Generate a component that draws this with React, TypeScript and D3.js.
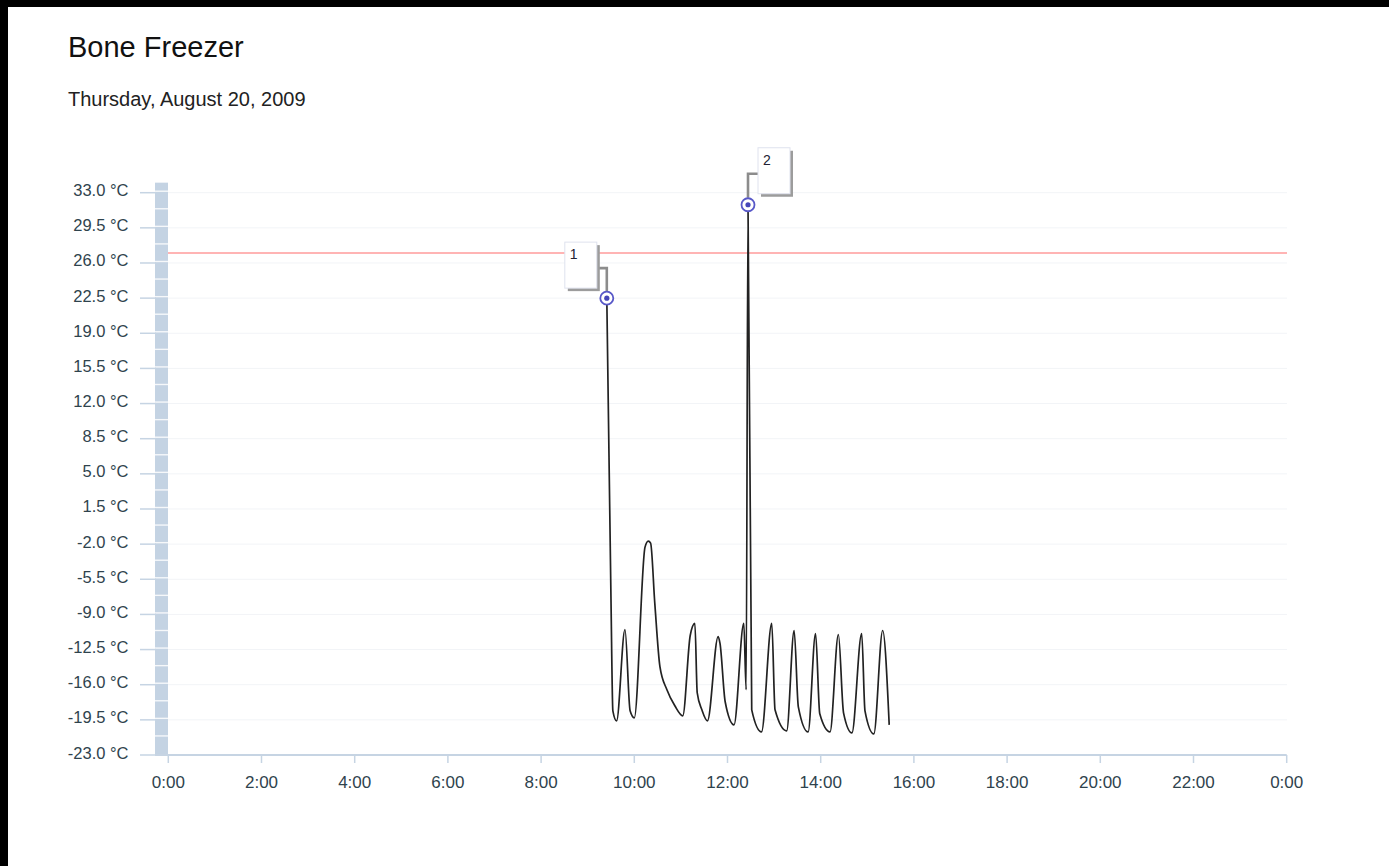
import React from 'react';
import * as d3 from 'd3';

const TITLE = 'Bone Freezer';
const SUBTITLE = 'Thursday, August 20, 2009';

// readings: hour of day and temperature (°C)
const hours = [9.41, 9.5, 9.54, 9.62, 9.8, 9.91, 10.0, 10.23, 10.3, 10.35, 10.44, 10.55, 10.7, 10.87, 11.04, 11.2, 11.3, 11.35, 11.45, 11.57, 11.8, 11.84, 11.95, 12.14, 12.35, 12.4, 12.44, 12.52, 12.73, 12.95, 13.02, 13.27, 13.43, 13.52, 13.73, 13.89, 13.98, 14.2, 14.38, 14.49, 14.67, 14.88, 14.95, 15.14, 15.33, 15.47];
const temps = [22.5, -7.6, -18.6, -19.6, -10.5, -18.6, -19.3, -2.3, -1.7, -1.9, -7.9, -14.2, -16.5, -18.1, -19.1, -11.1, -9.9, -16.8, -18.5, -19.6, -11.2, -11.9, -17.7, -20.0, -9.9, -16.5, 31.8, -18.5, -20.7, -9.9, -18.5, -20.6, -10.6, -18.2, -20.7, -10.9, -18.9, -20.7, -11.0, -18.8, -20.8, -10.9, -18.6, -20.9, -10.6, -20.0];

const yTicks = [33.0, 29.5, 26.0, 22.5, 19.0, 15.5, 12.0, 8.5, 5.0, 1.5, -2.0, -5.5, -9.0, -12.5, -16.0, -19.5, -23.0];
const xTicks = [0, 2, 4, 6, 8, 10, 12, 14, 16, 18, 20, 22, 24];
const THRESHOLD = 27.0;

const flagLabels = ['1', '2'];
const flagIndex = [0, 26];
const flagSide = ['left', 'right'];

const W = 1389;
const H = 866;

export default function App() {
  const x = d3.scaleLinear().domain([0, 24]).range([168.3, 1286.7]);
  const y = d3.scaleLinear().domain([-23, 33]).range([755, 192.7]);

  const pts = hours.map((h, i) => ({ h, t: temps[i] }));
  const line = d3.line<{ h: number; t: number }>()
    .x(d => x(d.h))
    .y(d => y(d.t))
    .curve(d3.curveMonotoneX);

  const bandTop = y(34);
  const bandBottom = y(-23);
  const gaps = d3.range(0, 32).map(k => 33 - k * 1.75);

  const tickColor = '#c6d4e3';
  const labelColor = '#2f434d';
  const font = '"Liberation Sans", Arial, sans-serif';

  return (
    <svg width={W} height={H} style={{ position: 'absolute', left: 0, top: 0 }} fontFamily={font}>
      <rect x={0} y={0} width={W} height={H} fill="#000" />
      <rect x={8} y={7} width={W - 8} height={H - 7} fill="#fff" />

      <text x={68} y={57} fontSize={29} fill="#111">{TITLE}</text>
      <text x={68} y={106} fontSize={20} fill="#222">{SUBTITLE}</text>

      {/* grid */}
      {yTicks.map(v => (
        <line key={'g' + v} x1={168} x2={1287} y1={y(v)} y2={y(v)} stroke="#f2f4f7" strokeWidth={1} />
      ))}

      {/* y band */}
      <rect x={155} y={bandTop} width={13} height={bandBottom - bandTop} fill="#c4d3e3" />
      {gaps.map(v => (
        <line key={'b' + v} x1={155} x2={168} y1={y(v) - 1.5} y2={y(v) - 1.5} stroke="#fff" strokeWidth={1.4} opacity={0.85} />
      ))}

      {/* y ticks */}
      {yTicks.map(v => (
        <g key={'y' + v}>
          <line x1={140} x2={156} y1={y(v)} y2={y(v)} stroke={tickColor} strokeWidth={1.5} />
          <text x={128.5} y={y(v) + 3.5} fontSize={16.5} textAnchor="end" fill={labelColor}>
            {v.toFixed(1)} °C
          </text>
        </g>
      ))}

      {/* x axis */}
      <line x1={155} x2={x(24)} y1={755} y2={755} stroke={tickColor} strokeWidth={2} />
      {xTicks.map(h => (
        <g key={'x' + h}>
          <line x1={x(h)} x2={x(h)} y1={755} y2={763} stroke={tickColor} strokeWidth={1.5} />
          <text x={x(h)} y={788} fontSize={17} textAnchor="middle" fill={labelColor}>
            {(h % 24) + ':00'}
          </text>
        </g>
      ))}

      {/* threshold */}
      <line x1={168} x2={1287} y1={y(THRESHOLD)} y2={y(THRESHOLD)} stroke="#ffb4b4" strokeWidth={2} />

      {/* data */}
      <path d={line(pts) || ''} fill="none" stroke="#222" strokeWidth={1.7} strokeLinejoin="round" />

      {/* flags */}
      {flagIndex.map((idx, i) => {
        const mx = x(hours[idx]);
        const my = y(temps[idx]);
        const left = flagSide[i] === 'left';
        const bx = left ? mx - 42 : mx + 10;
        const by = left ? my - 56 : my - 57;
        const cy = left ? my - 30 : my - 31;
        const cx = left ? mx - 9 : mx + 10;
        return (
          <g key={'f' + i}>
            <path d={`M${mx},${my - 7}V${cy}H${cx}`} fill="none" stroke="#8c8c8c" strokeWidth={2.6} />
            <rect x={bx + 3} y={by + 3} width={32} height={46} fill="#9c9c9c" />
            <rect x={bx} y={by} width={32} height={46} fill="#fff" stroke="#dfe2ee" strokeWidth={1} />
            <text x={bx + 5} y={by + 17} fontSize={14} fill="#223">{flagLabels[i]}</text>
            <circle cx={mx} cy={my} r={6.5} fill="#fff" stroke="#5858c8" strokeWidth={1.8} />
            <circle cx={mx} cy={my} r={2.6} fill="#4646b8" />
          </g>
        );
      })}
    </svg>
  );
}
